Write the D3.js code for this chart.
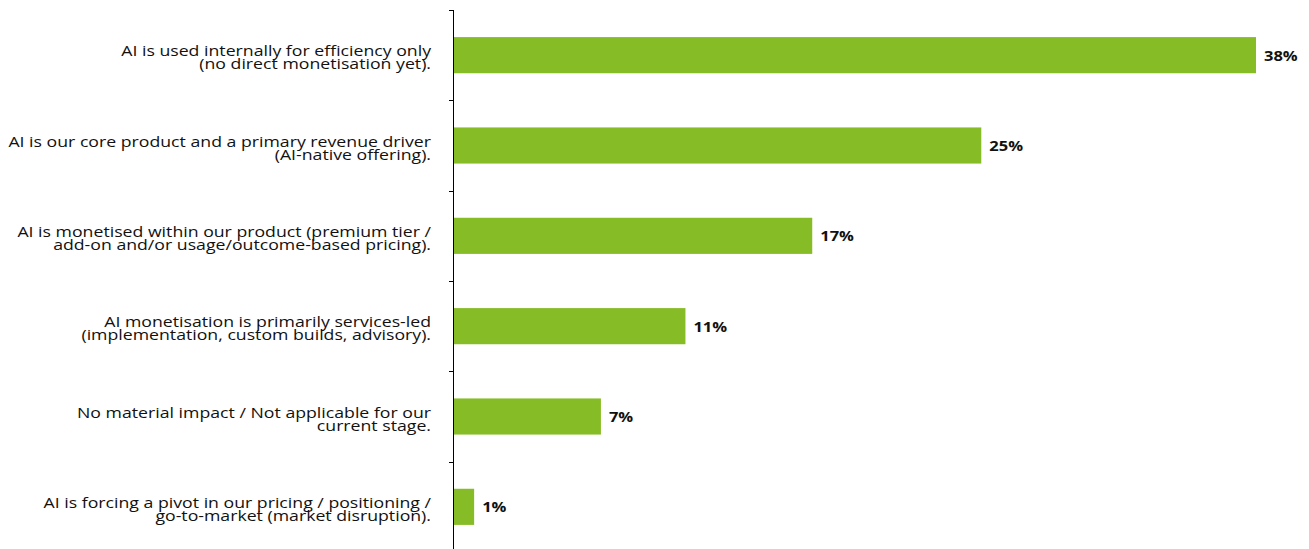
<!DOCTYPE html>
<html>
<head>
<meta charset="utf-8">
<script src="https://cdn.jsdelivr.net/npm/d3@7"></script>
<style>
  html, body { margin: 0; padding: 0; background: #fff; }
  svg { display: block; font-family: "Open Sans", "Noto Sans", sans-serif; }
</style>
</head>
<body>
<svg id="chart" width="1309" height="549"></svg>
<script>
// Answer options, each split into its two printed lines
const categories = [
  ["AI is used internally for efficiency only", "(no direct monetisation yet)."],
  ["AI is our core product and a primary revenue driver", "(AI-native offering)."],
  ["AI is monetised within our product (premium tier /", "add-on and/or usage/outcome-based pricing)."],
  ["AI monetisation is primarily services-led", "(implementation, custom builds, advisory)."],
  ["No material impact / Not applicable for our", "current stage."],
  ["AI is forcing a pivot in our pricing / positioning /", "go-to-market (market disruption)."]
];
// Share of respondents, percent
const values = [38, 25, 17, 11, 7, 1];

const svg = d3.select("#chart");
const axisX = 453;
const plotTop = 10, plotBottom = 552;

const x = d3.scaleLinear().domain([0, 38]).range([axisX, 1256]);
const y = d3.scaleBand()
  .domain(d3.range(categories.length))
  .range([plotTop, plotBottom])
  .paddingInner(0.6)
  .paddingOuter(0.3);

// Bars
svg.append("g").selectAll("rect")
  .data(values)
  .join("rect")
  .attr("x", x(0))
  .attr("y", (d, i) => y(i))
  .attr("width", d => x(d) - x(0))
  .attr("height", y.bandwidth())
  .attr("fill", "#86bc25");

// Value labels (set slightly wide)
svg.append("g").selectAll("text")
  .data(values)
  .join("text")
  .attr("transform", (d, i) => `translate(${x(d) + 8},${y(i) + y.bandwidth() / 2}) scale(1.1,1)`)
  .attr("dy", "0.36em")
  .attr("font-size", 15)
  .attr("font-weight", 700)
  .attr("fill", "#111")
  .text(d => d + "%");

// Vertical axis line with tick marks between categories
const step = y.step();
const boundaries = d3.range(categories.length + 1).map(i => plotTop + i * step);
const axis = svg.append("g").attr("stroke", "#000").attr("stroke-width", 1);
axis.append("line")
  .attr("x1", axisX + 0.5).attr("x2", axisX + 0.5)
  .attr("y1", plotTop).attr("y2", 549);
axis.selectAll("line.tick")
  .data(boundaries)
  .join("line")
  .attr("class", "tick")
  .attr("x1", axisX - 4).attr("x2", axisX + 0.5)
  .attr("y1", d => Math.round(d) + 0.5)
  .attr("y2", d => Math.round(d) + 0.5);

// Category labels, right-aligned, two tightly spaced lines each
const lineGap = 13;
const labelRight = 431;
svg.append("g").selectAll("text")
  .data(categories)
  .join("text")
  .attr("text-anchor", "end")
  .attr("font-size", 15)
  .attr("fill", "#111")
  .attr("transform", (d, i) => `translate(${labelRight},${y(i) + y.bandwidth() / 2}) scale(1.18,1)`)
  .each(function (d) {
    const t = d3.select(this);
    d.forEach((line, k) => {
      t.append("tspan")
        .attr("x", 0)
        .attr("y", k === 0 ? 1 : 1 + lineGap)
        .text(line);
    });
  });
</script>
</body>
</html>
